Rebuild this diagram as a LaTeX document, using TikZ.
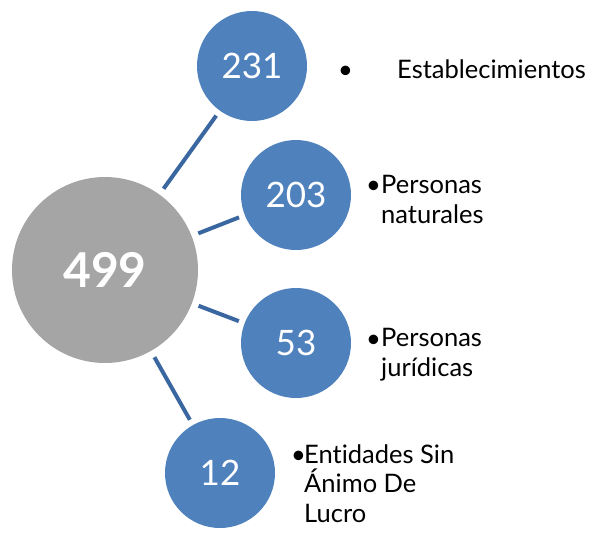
\documentclass[tikz,border=0pt]{standalone}
\usepackage{fontspec}
\setmainfont{Lato}[Ligatures=NoCommon]
\definecolor{azul}{HTML}{4F81BD}
\definecolor{azuloscuro}{HTML}{3B67A0}
\definecolor{gris}{HTML}{A5A5A5}
\tikzset{
	total/.style={circle, fill=gris, minimum size=186pt, inner sep=0pt, text=white, font=\fontsize{48}{50}\selectfont\bfseries},
	grupo/.style={circle, fill=azul, minimum size=110pt, inner sep=0pt, text=white, font=\fontsize{35}{40}\selectfont},
	enlace/.style={draw=azuloscuro, line width=4pt, shorten <=7pt, shorten >=6pt},
	vineta/.style={inner sep=0pt, anchor=base west, font=\fontsize{25.5}{30}\selectfont},
	rotulo/.style={inner sep=0pt, anchor=base west, align=left, font=\fontsize{25.5}{29.5}\selectfont}
}
\begin{document}
	\begin{tikzpicture}[x=1pt, y=-1pt]
		\useasboundingbox ( 0, 0 ) rectangle ( 592, 535 );
		% circulos
		\node [total] (n499) at ( 105, 270 ) {499};
		\node [grupo] (n231) at ( 252, 66 ) {231};
		\node [grupo] (n203) at ( 296, 195 ) {203};
		\node [grupo] (n53) at ( 296, 343 ) {53};
		\node [grupo] (n12) at ( 220, 473 ) {12};

		% enlaces
		\draw [enlace] (n499) -- (n231);
		\draw [enlace] (n499) -- (n203);
		\draw [enlace] (n499) -- (n53);
		\draw [enlace] (n499) -- (n12);

		% rotulos (base de la ultima linea)
		\node [vineta] (b231) at ( 338, 78 ) {\textbullet};
		\node [rotulo] (t231) at ( 397, 78 ) {Establecimientos};

		\node [vineta] (b203) at ( 366, 193 ) {\textbullet};
		\node [rotulo] (t203) at ( 381, 223 ) {Personas\\naturales};

		\node [vineta] (b53) at ( 366, 347 ) {\textbullet};
		\node [rotulo] (t53) at ( 381, 376 ) {Personas\\jurídicas};

		\node [vineta] (b12) at ( 291, 463 ) {\textbullet};
		\node [rotulo] (t12) at ( 304, 522 ) {Entidades Sin\\Ánimo De\\Lucro};
	\end{tikzpicture}
\end{document}
